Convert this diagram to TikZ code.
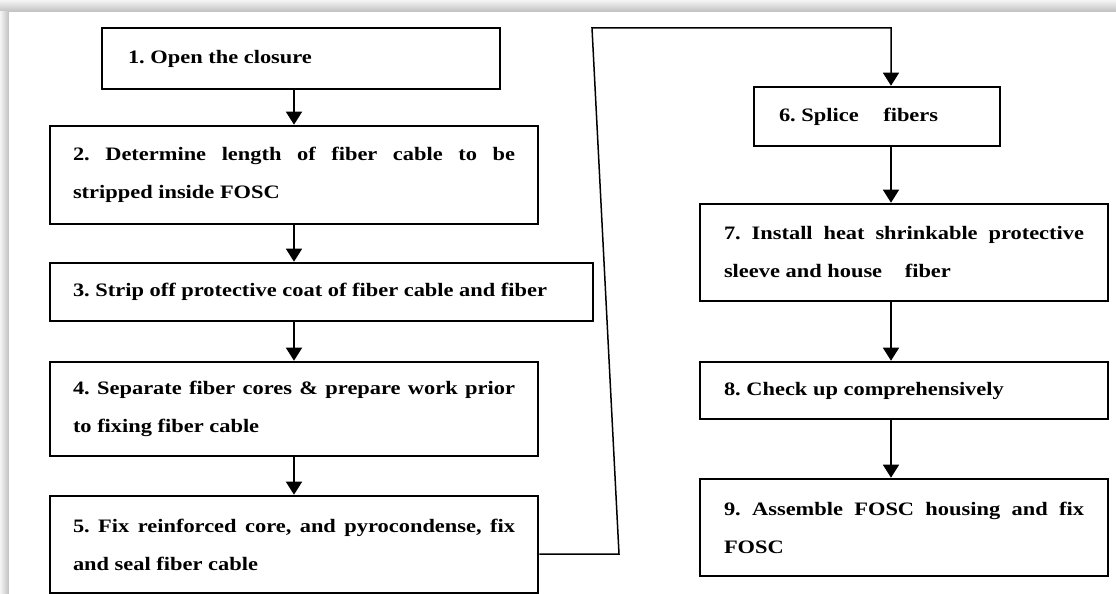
\documentclass[tikz,border=0pt]{standalone}
\usepackage{fontspec}
\setmainfont{Liberation Serif}[FakeStretch=1.18]
\usetikzlibrary{arrows.meta}
\hyphenpenalty=10000
\exhyphenpenalty=10000
\tolerance=10000
\frenchspacing
\begin{document}
\begin{tikzpicture}[x=1pt,y=-1pt,
  box/.style={draw=black, line width=2.6pt, inner xsep=0pt, inner ysep=0pt,
    font=\bfseries\fontsize{19}{38}\selectfont\frenchspacing, align=justify},
  arr/.style={line width=1.5pt, -{Triangle[width=16pt,length=13pt]}}]
\useasboundingbox (0,0) rectangle (1116,594);
% page background with shadow
\fill[gray!20] (0,0) rectangle (1116,594);
\shade[top color=gray!8, bottom color=gray!50] (0,0) rectangle (1116,12);
\shade[left color=gray!8, right color=gray!50] (0,12) rectangle (9,594);
\fill[white] (9,12) rectangle (1116,594);

% left column
\node[box, minimum width=398pt, minimum height=61pt, text width=346pt] (b1) at (301,58.5)
  {1. Open the closure};
\node[box, minimum width=488pt, minimum height=98pt, text width=442pt] (b2) at (294,175)
  {2. Determine length of fiber cable to be\linebreak stripped inside FOSC};
\node[box, minimum width=543pt, minimum height=58pt, text width=497pt] (b3) at (321.5,292)
  {3. Strip off protective coat of fiber cable and fiber};
\node[box, minimum width=488pt, minimum height=94pt, text width=442pt] (b4) at (294,409)
  {4. Separate fiber cores \& prepare work prior\linebreak to fixing fiber cable};
\node[box, minimum width=488pt, minimum height=97pt, text width=442pt] (b5) at (294,544.5)
  {5. Fix reinforced core, and pyrocondense, fix\linebreak and seal fiber cable};

% right column
\node[box, minimum width=246pt, minimum height=59pt, text width=196pt] (b6) at (877,116.5)
  {6. Splice\hspace*{19pt} fibers};
\node[box, minimum width=408pt, minimum height=97pt, text width=360pt] (b7) at (904,252.5)
  {7. Install heat shrinkable protective\linebreak sleeve and house\hspace*{17pt} fiber};
\node[box, minimum width=408pt, minimum height=57pt, text width=360pt] (b8) at (904,390.5)
  {8. Check up comprehensively};
\node[box, minimum width=408pt, minimum height=97pt, text width=360pt] (b9) at (904,527.5)
  {9. Assemble FOSC housing and fix\linebreak FOSC};

% connector columns
\coordinate (ax) at (294,0);
\coordinate (bx) at (891,0);
\draw[arr] (b1.south -| ax) -- (b2.north -| ax);
\draw[arr] (b2.south -| ax) -- (b3.north -| ax);
\draw[arr] (b3.south -| ax) -- (b4.north -| ax);
\draw[arr] (b4.south -| ax) -- (b5.north -| ax);

\coordinate (c1) at (619,554);
\coordinate (c2) at (592,28);
\coordinate (c3) at (891,28);
\draw[arr] (b5.east |- c1) -- (c1) -- (c2) -- (c3) -- (b6.north -| c3);

\draw[arr] (b6.south -| bx) -- (b7.north -| bx);
\draw[arr] (b7.south -| bx) -- (b8.north -| bx);
\draw[arr] (b8.south -| bx) -- (b9.north -| bx);
\end{tikzpicture}
\end{document}
